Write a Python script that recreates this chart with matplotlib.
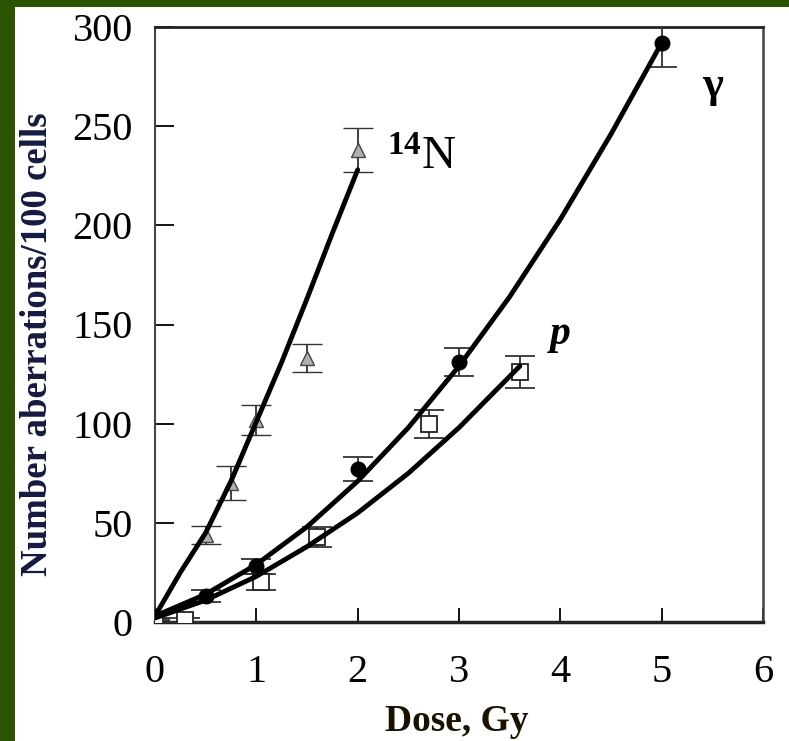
import numpy as np
import matplotlib
matplotlib.use("Agg")
import matplotlib.pyplot as plt

plt.rcParams['font.family'] = ['Liberation Serif', 'DejaVu Serif']
plt.rcParams['mathtext.fontset'] = 'custom'
plt.rcParams['mathtext.rm'] = 'Liberation Serif'
plt.rcParams['mathtext.bf'] = 'Liberation Serif:bold'

# ---- datos ----
dosis_n = [0, 0.5, 0.75, 1.0, 1.5, 2.0]
aber_n = [1, 44, 70, 102, 133, 238]
err_n = [1, 4.5, 8.5, 7.5, 7, 11]

dosis_g = [0, 0.5, 1.0, 2.0, 3.0, 5.0]
aber_g = [3, 13, 28, 77, 131, 292]
err_g = [1, 3, 4, 6, 7, 12]

dosis_p = [0, 0.3, 1.05, 1.6, 2.7, 3.6]
aber_p = [0, 1, 20, 43, 100, 126]
err_p = [1, 1, 4, 5, 7, 8]

# curvas de ajuste (leídas)
curva_n_x = [0, 0.25, 0.5, 0.75, 1.0, 1.25, 1.5, 1.75, 2.0]
curva_n_y = [3, 25, 45, 71, 101, 131, 163, 196, 228]
curva_g_x = [0, 0.5, 1.0, 1.5, 2.0, 2.5, 3.0, 3.5, 4.0, 4.5, 5.0]
curva_g_y = [3, 14, 29, 48, 71, 98, 129, 164, 203, 246, 292]
curva_p_x = [0, 0.5, 1.0, 1.5, 2.0, 2.5, 3.0, 3.6]
curva_p_y = [2, 11, 23, 38, 55, 75, 98, 129]

W, H = 789, 741
fig = plt.figure(figsize=(W / 100, H / 100), dpi=100)
fig.patch.set_facecolor('#2b5400')

# fondo blanco (deja franja verde a la izquierda y arriba)
fondo = fig.add_axes([15 / W, 0, 1 - 15 / W, (H - 7) / H], zorder=0)
fondo.set_facecolor('white')
fondo.set_xticks([])
fondo.set_yticks([])
for s in fondo.spines.values():
    s.set_visible(False)

ax = fig.add_axes([155 / W, 119 / H, (763 - 155) / W, (714 - 119) / H], zorder=1)
ax.set_facecolor('white')

eb = dict(color='#333333', elinewidth=1.3, capsize=11, capthick=1.3, linestyle='none')
ax.errorbar(dosis_n, aber_n, yerr=err_n, marker='^', ms=9.5, mfc='#b0b0b0', mec='#444444',
            mew=1.0, zorder=3, **eb)
ax.errorbar(dosis_g, aber_g, yerr=err_g, marker='o', ms=10.5, mfc='black', mec='black',
            zorder=3, **eb)
ax.errorbar(dosis_p, aber_p, yerr=err_p, marker='s', ms=11, mfc='white', mec='#222222',
            mew=1.3, zorder=3, **eb)

for cx, cy in [(curva_n_x, curva_n_y), (curva_g_x, curva_g_y), (curva_p_x, curva_p_y)]:
    ax.plot(cx, cy, color='black', lw=3.5, solid_capstyle='round', zorder=4)

ax.set_xlim(0, 6)
ax.set_ylim(0, 300)
ax.set_xticks(range(0, 7))
ax.set_yticks(range(0, 301, 50))

ax.tick_params(axis='x', direction='in', length=10, width=1.3, pad=23, labelsize=29)
ax.tick_params(axis='y', direction='in', length=13.5, width=1.3, pad=16, labelsize=29)
for side, w in [('left', 1.5), ('bottom', 2.5), ('top', 2.0), ('right', 1.8)]:
    ax.spines[side].set_linewidth(w)
    ax.spines[side].set_color('#222222')
ax.spines['left'].set_color('#444444')
ax.spines['right'].set_color('#444444')

ax.set_xlabel('Dose, Gy', fontsize=27, fontweight='bold', color='#1a1200', va='top')
ax.xaxis.set_label_coords(0.497, -0.138)
ax.set_ylabel('Number aberrations/100 cells', fontsize=26.5, fontweight='bold',
              color='#141a40')
ax.yaxis.set_label_coords(-0.165, 0.467)

ax.text(2.29, 228, r'$\mathbf{^{14}}$N', fontsize=34, ha='left', va='baseline')
ax.text(5.4, 270, 'γ', fontsize=32, fontweight='bold', ha='left', va='center')
ax.text(3.9, 145, 'p', fontsize=30, fontweight='bold', fontstyle='italic',
        ha='left', va='center')

fig.savefig('out.png', dpi=100, facecolor=fig.get_facecolor())
